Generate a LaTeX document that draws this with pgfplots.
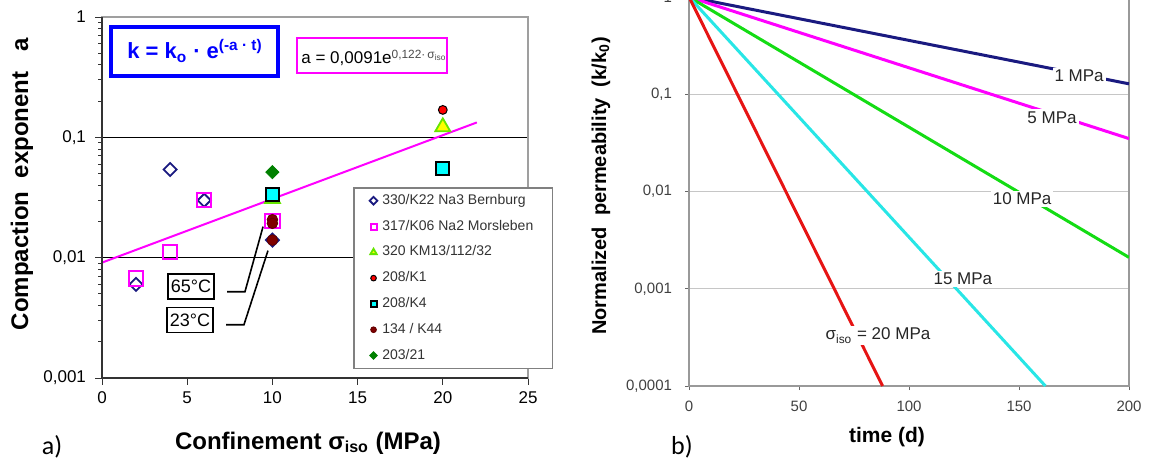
\documentclass[border=0pt]{standalone}
\usepackage{fontspec}
\setmainfont{Liberation Sans}
\newfontfamily\calibri{Carlito}
\usepackage{pgfplots}
\pgfplotsset{compat=1.18}
\definecolor{navyb}{RGB}{26,26,128}
\definecolor{mag}{RGB}{255,0,255}
\definecolor{linegreen}{RGB}{20,220,20}
\definecolor{linecyan}{RGB}{40,230,230}
\definecolor{linered}{RGB}{230,20,20}
\definecolor{trifill}{RGB}{255,255,0}
\definecolor{triedge}{RGB}{102,230,0}
\definecolor{dred}{RGB}{128,0,0}
\definecolor{dgreen}{RGB}{0,128,0}
\definecolor{cyanfill}{RGB}{0,255,255}
\definecolor{redfill}{RGB}{255,0,0}
\pgfplotsset{
  lm/.style={only marks, legend image code/.code={\draw[##1, mark size=#1] plot coordinates {(0pt,0pt)};}},
}
\begin{document}
\begin{tikzpicture}[x=1pt,y=1pt]
\useasboundingbox (0,0) rectangle (574.5,230.5);
% ---------------- left chart ----------------
\begin{axis}[
  at={(51pt,41.5pt)}, anchor=south west,
  scale only axis, width=213pt, height=180.5pt,
  xmin=0, xmax=25, ymin=0.001, ymax=1, ymode=log,
  xtick={0,5,10,15,20,25}, xticklabels={0,5,10,15,20,25},
  ytick={0.001,0.01,0.1,1}, yticklabels={{0,001},{0,01},{0,1},1},
  tick pos=left, tick align=outside,
  major tick length=3.5pt, minor tick length=1.8pt,
  tick style={black!80, line width=0.5pt},
  ymajorgrids, major grid style={black, line width=0.5pt},
  axis line style={draw=gray!75, line width=0.8pt},
  ticklabel style={font=\fontsize{8.5}{10}\selectfont},
  yticklabel style={xshift=-1pt},
  clip mode=individual,
  legend cell align=left,
  legend style={at={(0.589,0.529)}, anchor=north west, draw=gray, line width=0.8pt,
    fill=white, inner xsep=8pt, inner ysep=0pt, row sep=0pt, column sep=2.5pt,
    font=\fontsize{7}{8}\selectfont, text=black!80,
    nodes={inner sep=0pt, minimum height=12.9pt}},
]
\addplot[mag, line width=1pt, forget plot] coordinates {(0,0.0091) (22,0.133)};
\addplot[lm=1.35pt, color=navyb, mark=square, mark size=2.3pt, mark options={rotate=45, line width=0.9pt, fill=none}]
  coordinates {(2,0.0060) (4,0.054) (6,0.030) (10,0.0140)};
\addlegendentry{\makebox[77pt][l]{330/K22 Na3 Bernburg}}
\addplot[lm=1.5pt, color=mag, mark=square, mark size=3.6pt, mark options={line width=1pt, fill=none}]
  coordinates {(2,0.0067) (4,0.0112) (6,0.030) (10,0.0201)};
\addlegendentry{317/K06 Na2 Morsleben}
\addplot[lm=1.8pt, color=triedge, mark=triangle*, mark size=4.3pt, mark options={line width=0.9pt, fill=trifill, draw=triedge}]
  coordinates {(10,0.031) (20,0.122)};
\addlegendentry{320 KM13/112/32}
\addplot[lm=1.4pt, color=black, mark=*, mark size=2.2pt, mark options={line width=0.5pt, fill=redfill, draw=black}]
  coordinates {(20,0.169)};
\addlegendentry{208/K1}
\addplot[lm=1.5pt, color=black, mark=square*, mark size=3.3pt, mark options={line width=1pt, fill=cyanfill, draw=black}]
  coordinates {(10,0.0335) (20,0.0548)};
\addlegendentry{208/K4}
\addplot[lm=1.4pt, color=dred, mark=*, mark size=2.6pt, mark options={line width=0.5pt, fill=dred, draw=dred!80!black}]
  coordinates {(10,0.0207) (10,0.0193) (10,0.0140)};
\addlegendentry{134 / K44}
\addplot[lm=1.3pt, color=dgreen, mark=square*, mark size=2.3pt, mark options={rotate=45, line width=0.5pt, fill=dgreen, draw=dgreen}]
  coordinates {(10,0.0514)};
\addlegendentry{203/21}
% darker left and bottom spines
\draw[black!80, line width=0.8pt] (rel axis cs:0,1) -- (rel axis cs:0,0) -- (rel axis cs:1,0);
% leader lines
\draw[black, line width=0.8pt] (axis cs:7.34,0.00521) -- (axis cs:8.39,0.00521) -- (axis cs:9.45,0.0181);
\draw[black, line width=0.8pt] (axis cs:7.28,0.00277) -- (axis cs:8.33,0.00277) -- (axis cs:9.74,0.01144);
\end{axis}
% annotations left
\draw[blue, line width=1.6pt] (55.5,192.5) rectangle (139,217);
\node[text=blue, font=\fontsize{11}{13}\selectfont\bfseries] at (97.5,205)
  {k = k\textsubscript{o} · e\textsuperscript{(-a · t)}};
\draw[mag, line width=1pt] (148.5,194) rectangle (223.5,211.5);
\node[anchor=base west, inner sep=0pt, font=\fontsize{8.5}{10}\selectfont] at (150.5,198.5)
  {a = 0,0091e\textsuperscript{\color{black!70}0,122·\,σ\textsubscript{iso}}};
\node[draw, line width=0.9pt, fill=white, minimum width=23pt, minimum height=12.5pt, inner sep=0pt,
  font=\fontsize{9}{10}\selectfont] at (95.5,87.25) {65°C};
\node[draw, line width=0.9pt, fill=white, minimum width=23pt, minimum height=12.5pt, inner sep=0pt,
  font=\fontsize{9}{10}\selectfont] at (95,70.5) {23°C};
\node[rotate=90, font=\fontsize{12}{14}\selectfont\bfseries] at (11,138.5)
  {Compaction\ \ exponent\ \ \ a};
\node[font=\fontsize{12}{14}\selectfont\bfseries] at (154,9)
  {Confinement σ\textsubscript{iso} (MPa)};
\node[font=\fontsize{13}{15}\selectfont\calibri] at (26,7) {a)};
% ---------------- right chart ----------------
\begin{axis}[
  at={(344.5pt,37.5pt)}, anchor=south west,
  scale only axis, width=220pt, height=194.5pt,
  xmin=0, xmax=200, ymin=0.0001, ymax=1, ymode=log,
  xtick={0,50,100,150,200}, xticklabels={0,50,100,150,200},
  ytick={0.0001,0.001,0.01,0.1,1}, yticklabels={{0,0001},{0,001},{0,01},{0,1},1},
  yminorticks=false,
  tick pos=left, tick align=outside, major tick length=2pt,
  tick style={gray!80!black, line width=0.5pt},
  ymajorgrids, major grid style={gray!45, line width=0.6pt},
  axis line style={draw=gray!80, line width=0.8pt},
  ticklabel style={font=\fontsize{7.5}{9}\selectfont, text=black!75},
  yticklabel style={xshift=-3pt},
  xticklabel style={yshift=-2pt},
]
\addplot[navyb, line width=1.5pt] coordinates {(0,1) (200,0.128)};
\addplot[mag, line width=1.5pt] coordinates {(0,1) (200,0.035)};
\addplot[linegreen, line width=1.5pt] coordinates {(0,1) (200,0.0021)};
\addplot[linecyan, line width=1.5pt] coordinates {(0,1) (162,0.0001)};
\addplot[linered, line width=1.5pt] coordinates {(0,1) (88,0.0001)};
\begin{scope}[every node/.style={fill=white, inner sep=1pt, font=\fontsize{8.5}{10}\selectfont, text=black!85}]
\node at (axis cs:177.3,0.154) {1 MPa};
\node at (axis cs:165,0.058) {5 MPa};
\node at (axis cs:151.4,0.0084) {10 MPa};
\node at (axis cs:124.5,0.00127) {15 MPa};
\node at (axis cs:85.9,0.00033) {σ\textsubscript{iso} = 20 MPa};
\end{scope}
\end{axis}
\node[rotate=90, font=\fontsize{10}{12}\selectfont\bfseries] at (300.5,137.5)
  {Normalized\ \ permeability\ \ (k/k\textsubscript{0})};
\node[font=\fontsize{10.5}{12}\selectfont\bfseries] at (443.5,12) {time (d)};
\node[font=\fontsize{13}{15}\selectfont\calibri] at (341,7) {b)};
\end{tikzpicture}
\end{document}
